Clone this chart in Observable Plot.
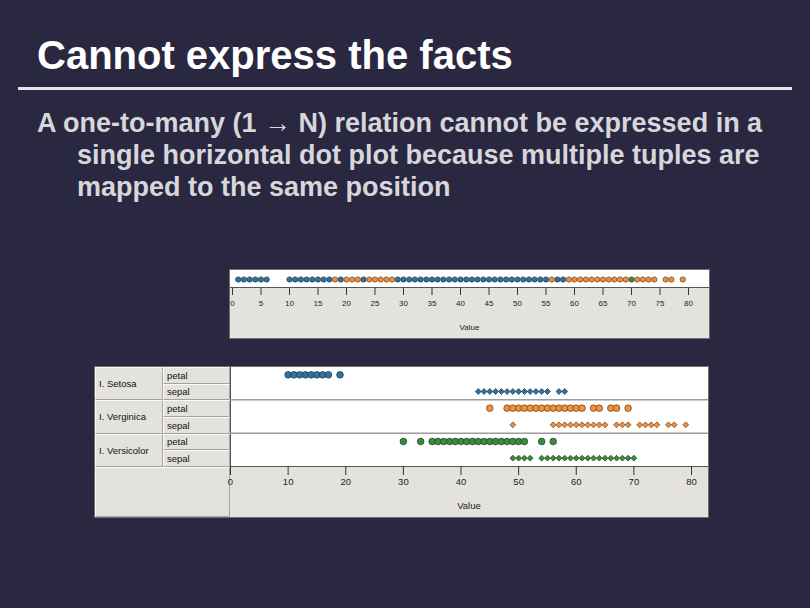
<!DOCTYPE html>
<html><head><meta charset="utf-8">
<script src="https://cdn.jsdelivr.net/npm/d3@7"></script>
<script src="https://cdn.jsdelivr.net/npm/@observablehq/plot@0.6"></script>
<style>
html,body{margin:0;padding:0;}
body{width:810px;height:608px;background:#2a2840;position:relative;overflow:hidden;font-family:"Liberation Sans",Arial,sans-serif;}
#title{position:absolute;left:37px;top:35px;font-size:40px;line-height:40px;font-weight:bold;color:#ffffff;white-space:nowrap;}
#rule{position:absolute;left:18px;top:87px;width:774px;height:3px;background:#e4e4ec;}
#body{position:absolute;left:37px;top:107px;font-size:27px;line-height:32px;font-weight:bold;color:#d6d6dc;white-space:nowrap;padding-left:40px;text-indent:-40px;}
.box{position:absolute;box-sizing:border-box;}
.panel{background:#e4e2dc;border:1px solid #6e6e6e;}
.white{background:#ffffff;}
.cell{background:#e4e2dc;border-right:1px solid #a6a49e;border-bottom:1px solid #a6a49e;border-top:1px solid #fbfbf9;border-left:1px solid #fbfbf9;font-size:9.5px;color:#111;display:flex;align-items:center;padding-left:3px;font-family:"Liberation Sans",Arial,sans-serif;}
.svgwrap{position:absolute;}
.svgwrap svg{overflow:visible;background:transparent;}
</style>
</head><body>
<div id="title">Cannot express the facts</div>
<div id="rule"></div>
<div id="body">A one-to-many (1 → N) relation cannot be expressed in a<br>single horizontal dot plot because multiple tuples are<br>mapped to the same position</div>

<div class="box panel" style="left:229px;top:269px;width:481px;height:70px;"></div>
<div class="box white" style="left:230px;top:270px;width:479px;height:18px;border-bottom:1px solid #555;"></div>
<div class="svgwrap" id="top" style="left:229px;top:269px;"></div>

<div class="box panel" style="left:94px;top:366px;width:615px;height:152px;"></div>
<div class="box white" style="left:230px;top:367px;width:478px;height:100px;border-bottom:1px solid #555;border-left:1px solid #555;"></div>
<div id="labels"></div>
<div class="svgwrap" id="bottom" style="left:94px;top:366px;"></div>

<script>
// ---- data (iris measurements in mm, distinct values) ----
const speciesNames = ["I. Setosa", "I. Verginica", "I. Versicolor"];
const partNames = ["petal", "sepal"];

const setosaPetal = [10,11,12,13,14,15,16,17,19];
const setosaSepal = [43,44,45,46,47,48,49,50,51,52,53,54,55,57,58];
const virginicaPetal = [45,48,49,50,51,52,53,54,55,56,57,58,59,60,61,63,64,66,67,69];
const virginicaSepal = [49,56,57,58,59,60,61,62,63,64,65,67,68,69,71,72,73,74,76,77,79];
const versicolorPetal = [30,33,35,36,37,38,39,40,41,42,43,44,45,46,47,48,49,50,51,54,56];
const versicolorSepal = [49,50,51,52,54,55,56,57,58,59,60,61,62,63,64,65,66,67,68,69,70];

// single strip: one dot per position, coloured by the species that ends up visible
const stripSetosa = [1,2,3,4,5,6,10,11,12,13,14,15,16,17,19,23,29,30,31,32,33,34,35,36,37,38,39,40,41,42,43,44,45,46,47,48,49,50,51,52,53,54,55,57,58];
const stripVirginica = [18,20,21,22,24,25,26,27,28,56,59,60,61,62,63,64,65,66,67,68,69,71,72,73,74,76,77,79];
const stripVersicolor = [70];

const topTicks = [0,5,10,15,20,25,30,35,40,45,50,55,60,65,70,75,80];
const bottomTicks = [0,10,20,30,40,50,60,70,80];

const fills = {"I. Setosa":"#33739f", "I. Verginica":"#ee9140", "I. Versicolor":"#3e8b3e"};
const strokes = {"I. Setosa":"#1b3a52", "I. Verginica":"#7a4514", "I. Versicolor":"#1d461d"};
const symbols = {"petal":"circle", "sepal":"diamond2"};

// ---- top strip ----
const stripSets = [
  ["I. Setosa", stripSetosa], ["I. Verginica", stripVirginica], ["I. Versicolor", stripVersicolor]
];
const topPlot = Plot.plot({
  width: 481, height: 70,
  marginLeft: 3, marginRight: 22, marginTop: 1, marginBottom: 51,
  style: {fontFamily: "Liberation Sans, Arial, sans-serif", fontSize: "8px", color: "#222", background: "transparent", overflow: "visible"},
  x: {domain: [0, 80]},
  y: {axis: null},
  marks: [
    ...stripSets.map(([s, vals]) => Plot.dotX(vals, {x: d => d, r: 2.6, fill: fills[s], stroke: strokes[s], strokeWidth: 0.8})),
    Plot.axisX({ticks: topTicks, tickSize: 7, tickPadding: 5, label: null, fontSize: 8, stroke: "#333"}),
    Plot.text(["Value"], {frameAnchor: "bottom", lineAnchor: "middle", dy: 39, dx: 9, fontSize: 8, fill: "#222"})
  ]
});
document.getElementById("top").appendChild(topPlot);

// ---- bottom: one row per species × part ----
const rows = [
  ["I. Setosa", "petal", setosaPetal], ["I. Setosa", "sepal", setosaSepal],
  ["I. Verginica", "petal", virginicaPetal], ["I. Verginica", "sepal", virginicaSepal],
  ["I. Versicolor", "petal", versicolorPetal], ["I. Versicolor", "sepal", versicolorSepal]
];
const bottomPlot = Plot.plot({
  width: 615, height: 152,
  marginLeft: 136, marginRight: 18, marginTop: 1, marginBottom: 52,
  style: {fontFamily: "Liberation Sans, Arial, sans-serif", fontSize: "9.5px", color: "#222", background: "transparent", overflow: "visible"},
  x: {domain: [0, 80]},
  y: {domain: [0, 6], range: [0, 100], axis: null},
  marks: [
    Plot.ruleY([2, 4], {stroke: "#9c9c9c", strokeWidth: 1.5, insetRight: -17}),
    ...rows.map(([s, p, vals], i) => Plot.dot(vals, {x: d => d, y: () => i + 0.5, symbol: symbols[p], r: p === "petal" ? 3.3 : 2.6, fill: fills[s], stroke: strokes[s], strokeWidth: 0.8})),
    Plot.axisX({ticks: bottomTicks, tickSize: 9, tickPadding: 3, label: null, fontSize: 9.5, stroke: "#333"}),
    Plot.text(["Value"], {frameAnchor: "bottom", lineAnchor: "middle", dy: 39, dx: 8, fontSize: 9.5, fill: "#222"})
  ]
});
document.getElementById("bottom").appendChild(bottomPlot);

// ---- left header cells (species / part) ----
const lab = document.getElementById("labels");
const rowH = 100 / 6;
speciesNames.forEach((s, si) => {
  const top = 367 + si * 2 * rowH;
  const c = document.createElement("div");
  c.className = "box cell";
  c.style.cssText = `left:95px;top:${top}px;width:68px;height:${2 * rowH}px;`;
  c.textContent = s;
  lab.appendChild(c);
  partNames.forEach((p, pi) => {
    const d = document.createElement("div");
    d.className = "box cell";
    d.style.cssText = `left:163px;top:${top + pi * rowH}px;width:67px;height:${rowH}px;`;
    d.textContent = p;
    lab.appendChild(d);
  });
});
const corner = document.createElement("div");
corner.className = "box cell";
corner.style.cssText = "left:95px;top:467px;width:135px;height:50px;";
lab.appendChild(corner);
</script>
</body></html>
